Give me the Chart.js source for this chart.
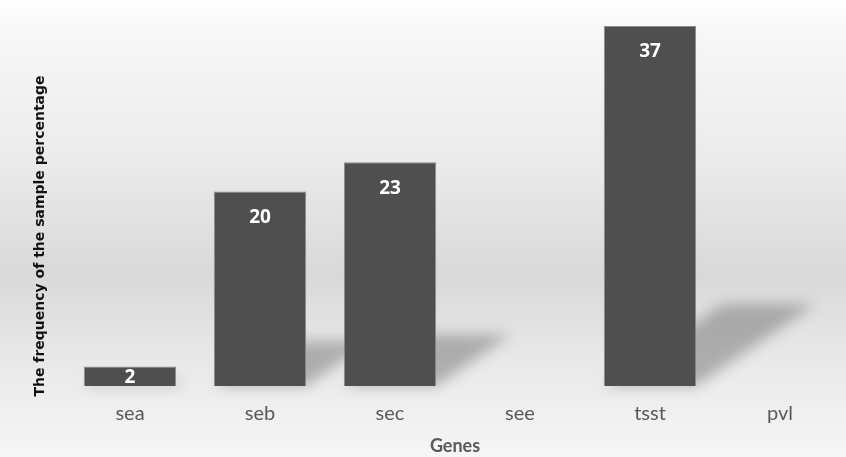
<!DOCTYPE html>
<html>
<head>
<meta charset="utf-8">
<script src="https://cdn.jsdelivr.net/npm/chart.js@4/dist/chart.umd.min.js"></script>
<style>
  html, body { margin: 0; padding: 0; background: #fff; }
  canvas { display: block; }
</style>
</head>
<body>
<canvas id="genesChart" width="846" height="457"></canvas>
<script>
// data
const genes = ['sea', 'seb', 'sec', 'see', 'tsst', 'pvl'];
const frequency = [2, 20, 23, 0, 37, 0];

const yTitle = 'The frequency of the sample percentage';
const xTitle = 'Genes';

// gray gradient behind everything
const backgroundPlugin = {
    id: 'bgGradient',
    beforeDraw(chart) {
        const ctx = chart.ctx;
        const g = ctx.createLinearGradient(0, 0, 0, chart.height);
        g.addColorStop(0, '#ffffff');
        g.addColorStop(0.08, '#f7f7f7');
        g.addColorStop(0.35, '#ebebeb');
        g.addColorStop(0.6, '#d9d9d9');
        g.addColorStop(0.78, '#e8e8e8');
        g.addColorStop(1, '#f6f6f6');
        ctx.save();
        ctx.fillStyle = g;
        ctx.fillRect(0, 0, chart.width, chart.height);
        ctx.restore();
    }
};

// soft skewed shadows falling to the upper right of each bar
const shadowPlugin = {
    id: 'barShadows',
    beforeDatasetsDraw(chart) {
        const ctx = chart.ctx;
        const bars = chart.getDatasetMeta(0).data;
        ctx.save();
        ctx.filter = 'blur(7px)';
        ctx.fillStyle = 'rgba(90, 90, 90, 0.42)';
        bars.forEach(bar => {
            const h = bar.base - bar.y;
            if (h <= 0) return;
            const half = bar.width / 2;
            const sh = Math.min(h * 0.23, 82);
            const dx = sh * 1.45;
            ctx.beginPath();
            ctx.moveTo(bar.x - half, bar.base);
            ctx.lineTo(bar.x + half, bar.base);
            ctx.lineTo(bar.x + half + dx, bar.base - sh);
            ctx.lineTo(bar.x - half + dx, bar.base - sh);
            ctx.closePath();
            ctx.fill();
        });
        ctx.restore();
    }
};

// white value labels inside the top of each bar, y axis title drawn by hand
const valueLabels = {
    id: 'valueLabels',
    afterDatasetsDraw(chart) {
        const ctx = chart.ctx;
        const bars = chart.getDatasetMeta(0).data;
        ctx.save();
        ctx.fillStyle = '#ffffff';
        ctx.font = 'bold 19px "Open Sans"';
        ctx.textAlign = 'center';
        ctx.textBaseline = 'middle';
        bars.forEach((bar, i) => {
            const v = frequency[i];
            if (!v) return;
            const y = Math.min(bar.y + 26, (bar.y + bar.base) / 2 + 1);
            ctx.fillText(String(v), bar.x, y);
        });
        ctx.restore();

        // rotated title, centred on the whole picture height like the original
        ctx.save();
        ctx.translate(40, 236);
        ctx.rotate(-Math.PI / 2);
        ctx.fillStyle = '#111111';
        ctx.font = 'bold 14px "DejaVu Sans"';
        ctx.textAlign = 'center';
        ctx.textBaseline = 'middle';
        ctx.fillText(yTitle, 0, 0);
        ctx.restore();
    }
};

new Chart(document.getElementById('genesChart'), {
    type: 'bar',
    data: {
        labels: genes,
        datasets: [{
            data: frequency,
            backgroundColor: '#4f4f4f',
            borderColor: '#8c8c8c',
            borderWidth: 1,
            barPercentage: 0.71,
            categoryPercentage: 1.0
        }]
    },
    options: {
        responsive: false,
        animation: false,
        layout: { padding: { top: 26, left: 65, right: 1, bottom: 0 } },
        plugins: {
            legend: { display: false },
            tooltip: { enabled: false }
        },
        scales: {
            x: {
                grid: { display: false, drawTicks: false },
                border: { display: false },
                ticks: {
                    color: '#595959',
                    font: { family: 'Lato', size: 20 },
                    padding: 16
                },
                title: {
                    display: true,
                    text: xTitle,
                    color: '#595959',
                    font: { family: 'Lato', size: 18, weight: 'bold' },
                    padding: { top: 0, bottom: 0 }
                },
                afterFit(scale) { scale.height = 71; }
            },
            y: {
                display: false,
                min: 0,
                max: Math.max(...frequency)
            }
        }
    },
    plugins: [backgroundPlugin, shadowPlugin, valueLabels]
});
</script>
</body>
</html>
